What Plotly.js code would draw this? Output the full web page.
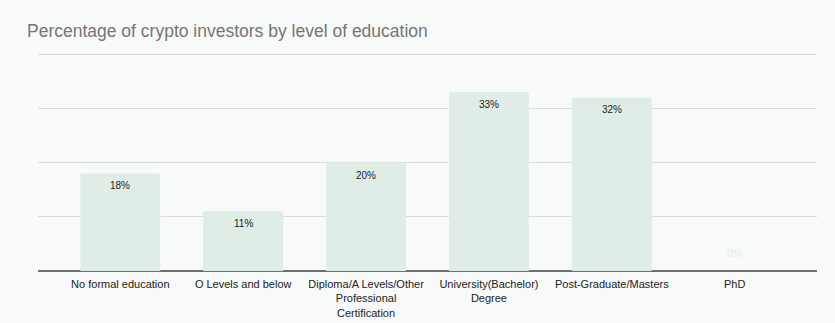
<!DOCTYPE html>
<html>
<head>
<meta charset="utf-8">
<script src="https://cdn.plot.ly/plotly-3.0.1.min.js"></script>
<style>html,body{margin:0;padding:0;background:#f8f9f9;}#chart{width:835px;height:323px;}</style>
</head>
<body>
<div id="chart"></div>
<script>
const categories = ["No formal education", "O Levels and below", "Diploma/A Levels/Other<br>Professional<br>Certification", "University(Bachelor)<br>Degree", "Post-Graduate/Masters", "PhD"];
const values = [18, 11, 20, 33, 32, 0];
const labels = ["18%", "11%", "20%", "33%", "32%", "0%"];
const gridTicks = [0, 10, 20, 30, 40];

const xIdx = categories.map((c, i) => i);

const annotations = values.map((v, i) => ({
  x: i, y: v, xref: 'x', yref: 'y',
  text: labels[i], showarrow: false,
  yanchor: v > 0 ? 'top' : 'bottom',
  yshift: v > 0 ? -5 : 10,
  font: {family: 'Liberation Sans, Arial, sans-serif', size: 10, color: v > 0 ? '#222222' : '#e3ece7'}
}));

const trace = {
  type: 'bar',
  x: xIdx,
  y: values,
  width: 0.65,
  marker: {color: '#e0ede6', cornerradius: 2},
  hoverinfo: 'skip'
};

const layout = {
  width: 835, height: 323,
  paper_bgcolor: '#f8f9f9', plot_bgcolor: '#f8f9f9',
  margin: {l: 38, r: 18, t: 53, b: 52},
  showlegend: false,
  title: {
    text: 'Percentage of crypto investors by level of education',
    x: 27/835, xref: 'container', xanchor: 'left',
    y: 1 - 31/323, yref: 'container', yanchor: 'middle',
    font: {family: 'Liberation Sans, Arial, sans-serif', size: 17.5, color: '#757575'}
  },
  xaxis: {
    range: [-0.67, 5.67],
    tickmode: 'array', tickvals: xIdx, ticktext: categories,
    showgrid: false, zeroline: false, showline: false, ticks: '',
    ticklabelstandoff: 5,
    tickfont: {family: 'Liberation Sans, Arial, sans-serif', size: 11, color: '#222222'},
    fixedrange: true
  },
  yaxis: {
    range: [0, 40.2],
    tickmode: 'array', tickvals: gridTicks,
    showticklabels: false,
    showgrid: true, gridcolor: '#dcdcdc', gridwidth: 1,
    zeroline: true, zerolinecolor: '#6f6f6f', zerolinewidth: 1.2,
    fixedrange: true
  },
  annotations: annotations,
  font: {family: 'Liberation Sans, Arial, sans-serif'}
};

Plotly.newPlot('chart', [trace], layout, {displayModeBar: false, staticPlot: true});
</script>
</body>
</html>
